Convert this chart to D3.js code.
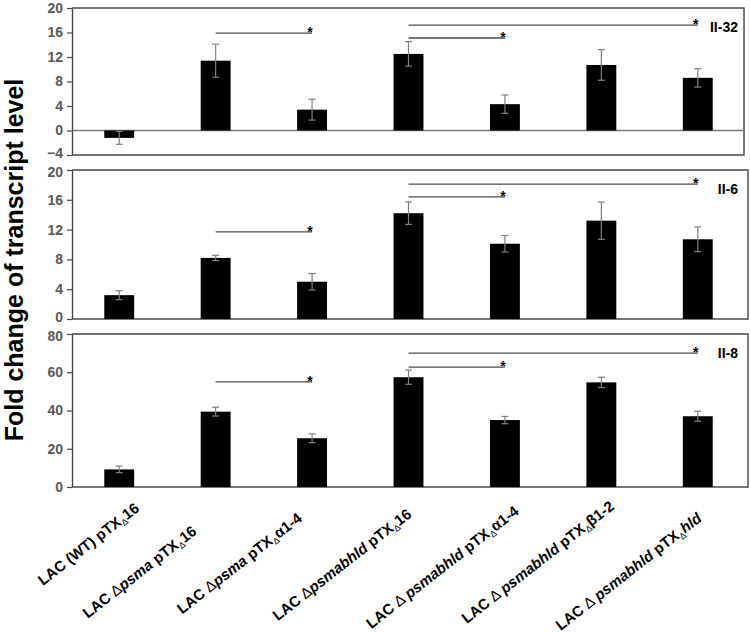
<!DOCTYPE html>
<html>
<head>
<meta charset="utf-8">
<script src="https://cdn.jsdelivr.net/npm/d3@7"></script>
<style>
body { margin: 0; background: #fff; }
text { font-family: "Liberation Sans", Arial, sans-serif; }
</style>
</head>
<body>
<div id="chart-area"></div>
<script>
// strains, one bar per strain in each panel
var categories = [
    "LAC (WT) pTXΔ16",
    "LAC Δpsma pTXΔ16",
    "LAC Δpsma pTXΔα1-4",
    "LAC Δpsmabhld pTXΔ16",
    "LAC Δ psmabhld pTXΔα1-4",
    "LAC Δ psmabhld pTXΔβ1-2",
    "LAC Δ psmabhld pTXΔhld"
];
// rich text pieces for the axis labels (n = bold, i = bold italic, s = subscript, d = plain delta)
var labelParts = [
    [["LAC (WT) pTX", "n"], ["Δ", "s"], ["16", "n"]],
    [["LAC ", "n"], ["Δ", "d"], ["psma", "i"], [" pTX", "n"], ["Δ", "s"], ["16", "n"]],
    [["LAC ", "n"], ["Δ", "d"], ["psma", "i"], [" pTX", "n"], ["Δ", "s"], ["α1-4", "n"]],
    [["LAC ", "n"], ["Δ", "d"], ["psmabhld", "i"], [" pTX", "n"], ["Δ", "s"], ["16", "n"]],
    [["LAC ", "n"], ["Δ ", "d"], ["psmabhld", "i"], [" pTX", "n"], ["Δ", "s"], ["α1-4", "n"]],
    [["LAC ", "n"], ["Δ ", "d"], ["psmabhld", "i"], [" pTX", "n"], ["Δ", "s"], ["β1-2", "n"]],
    [["LAC ", "n"], ["Δ ", "d"], ["psmabhld", "i"], [" pTX", "n"], ["Δ", "s"], ["hld", "i"]]
];

var panelNames = ["II-32", "II-6", "II-8"];

var il32Mean = [-1.2, 11.4, 3.4, 12.5, 4.3, 10.7, 8.6];
var il32Err  = [1.05, 2.7, 1.7, 2.0, 1.5, 2.5, 1.5];
var il6Mean  = [3.2, 8.2, 5.0, 14.2, 10.1, 13.2, 10.7];
var il6Err   = [0.6, 0.35, 1.1, 1.5, 1.1, 2.5, 1.65];
var il8Mean  = [9.2, 39.4, 25.5, 57.4, 35.0, 54.7, 37.0];
var il8Err   = [1.7, 2.3, 2.3, 3.7, 1.9, 2.7, 2.6];

// significance brackets: [from bar, to bar, level]
var il32Sig = [[1, 2, 15.9], [3, 6, 17.2], [3, 4, 15.1]];
var il6Sig  = [[1, 2, 11.7], [3, 6, 18.1], [3, 4, 16.4]];
var il8Sig  = [[1, 2, 55], [3, 6, 70], [3, 4, 62.7]];

var il32Ticks = [-4, 0, 4, 8, 12, 16, 20];
var il6Ticks  = [0, 4, 8, 12, 16, 20];
var il8Ticks  = [0, 20, 40, 60, 80];

// layout
var left = 72;
var panelBox = [
    {top: 8, bottom: 155, right: 744},
    {top: 170, bottom: 319, right: 748},
    {top: 334, bottom: 487, right: 748}
];
var labelNudge = [[21, -5], [-18, 18], [-9, 5], [4, 1], [15, -2], [14, -7], [5, 5]];

var panels = [
    {name: panelNames[0], mean: il32Mean, err: il32Err, sig: il32Sig, ticks: il32Ticks},
    {name: panelNames[1], mean: il6Mean, err: il6Err, sig: il6Sig, ticks: il6Ticks},
    {name: panelNames[2], mean: il8Mean, err: il8Err, sig: il8Sig, ticks: il8Ticks}
];

var svg = d3.select("#chart-area")
  .append("svg")
    .attr("width", 750)
    .attr("height", 632);

var x = d3.scaleBand()
    .domain(d3.range(categories.length))
    .range([71, 746])
    .paddingInner(0.69)
    .paddingOuter(0.345);

var frameColor = "#454545";

panels.forEach((p, k) => {
    var box = panelBox[k];
    var lo = p.ticks[0], hi = p.ticks[p.ticks.length - 1];
    var y = d3.scaleLinear()
        .domain([lo, hi])
        .range([box.bottom, box.top]);

    var g = svg.append("g").attr("class", "panel");

    // frame
    g.append("path")
        .attr("d", "M" + left + "," + box.top + "H" + box.right + "V" + box.bottom + "H" + left)
        .attr("fill", "none")
        .attr("stroke", frameColor)
        .attr("stroke-width", 1.4);

    // zero line
    g.append("line")
        .attr("x1", left).attr("x2", box.right - 1)
        .attr("y1", y(0)).attr("y2", y(0))
        .attr("stroke", "#7a7a7a")
        .attr("stroke-width", 1.3);

    var yAxis = d3.axisLeft(y)
        .tickValues(p.ticks)
        .tickSize(5)
        .tickSizeOuter(0)
        .tickPadding(4);
    var ax = g.append("g")
        .attr("transform", "translate(" + left + ",0)")
        .call(yAxis);
    ax.select(".domain").attr("stroke", frameColor).attr("stroke-width", 1.4);
    ax.selectAll(".tick line").attr("stroke", frameColor).attr("stroke-width", 1.2);
    ax.selectAll(".tick text")
        .attr("fill", "#595959")
        .attr("font-size", "14px")
        .attr("font-weight", "bold")
        .attr("font-family", "'Liberation Sans', Arial, sans-serif")
        // keep end labels of stacked panels apart
        .attr("y", (d) => (d == lo && k < 2) ? -2 : (d == hi && k > 0) ? 2 : 0);

    // bars
    g.selectAll("rect.bar").data(p.mean)
      .enter()
      .append("rect")
        .attr("class", "bar")
        .attr("x", (d, i) => x(i))
        .attr("y", (d) => Math.min(y(d), y(0)))
        .attr("width", x.bandwidth())
        .attr("height", (d) => Math.abs(y(d) - y(0)))
        .attr("fill", "#000");

    // error bars
    var eb = g.selectAll("g.err").data(p.mean)
      .enter()
      .append("g")
        .attr("class", "err")
        .attr("stroke", "#808080")
        .attr("stroke-width", 1.2);
    eb.append("line")
        .attr("x1", (d, i) => x(i) + x.bandwidth() / 2)
        .attr("x2", (d, i) => x(i) + x.bandwidth() / 2)
        .attr("y1", (d, i) => y(d - p.err[i]))
        .attr("y2", (d, i) => y(d + p.err[i]));
    [-1, 1].forEach((s) => {
        eb.append("line")
            .attr("x1", (d, i) => x(i) + x.bandwidth() / 2 - 3.5)
            .attr("x2", (d, i) => x(i) + x.bandwidth() / 2 + 3.5)
            .attr("y1", (d, i) => y(d + s * p.err[i]))
            .attr("y2", (d, i) => y(d + s * p.err[i]));
    });

    // significance lines
    var sg = g.selectAll("g.sig").data(p.sig)
      .enter()
      .append("g")
        .attr("class", "sig");
    sg.append("line")
        .attr("x1", (d) => x(d[0]) + x.bandwidth() / 2)
        .attr("x2", (d) => x(d[1]) + x.bandwidth() / 2)
        .attr("y1", (d) => y(d[2]))
        .attr("y2", (d) => y(d[2]))
        .attr("stroke", "#4a4a4a")
        .attr("stroke-width", 1.3);
    sg.append("text")
        .attr("x", (d) => x(d[1]) + x.bandwidth() / 2 - 2)
        .attr("y", (d) => y(d[2]) + 4)
        .attr("text-anchor", "middle")
        .attr("font-size", "14px")
        .attr("font-weight", "bold")
        .text("*");

    g.append("text")
        .attr("x", 738)
        .attr("y", box.top + 24)
        .attr("text-anchor", "end")
        .attr("font-size", "14px")
        .attr("font-weight", "bold")
        .text(p.name);
});

// category labels
var labels = svg.selectAll("text.xlab").data(labelParts)
  .enter()
  .append("text")
    .attr("class", "xlab")
    .attr("text-anchor", "end")
    .attr("font-size", "15px")
    .attr("font-weight", "bold")
    .attr("transform", (d, i) => "translate(" + (x(i) + x.bandwidth() / 2 + labelNudge[i][0]) + "," + (515 + labelNudge[i][1]) + ") rotate(-38)");

labels.each(function(parts) {
    var t = d3.select(this);
    var shifted = false;
    parts.forEach((seg) => {
        var ts = t.append("tspan").text(seg[0]);
        if (seg[1] == "s") {
            ts.attr("font-size", "9px").attr("font-weight", "normal").attr("dy", 3);
            shifted = true;
        } else {
            if (shifted) { ts.attr("dy", -3); shifted = false; }
            if (seg[1] == "i") ts.attr("font-style", "italic");
            if (seg[1] == "d") ts.attr("font-weight", "normal");
        }
    });
});

svg.append("text")
    .attr("transform", "translate(23,260) rotate(-90)")
    .attr("text-anchor", "middle")
    .attr("font-size", "25px")
    .attr("font-weight", "bold")
    .text("Fold change of transcript level");
</script>
</body>
</html>
